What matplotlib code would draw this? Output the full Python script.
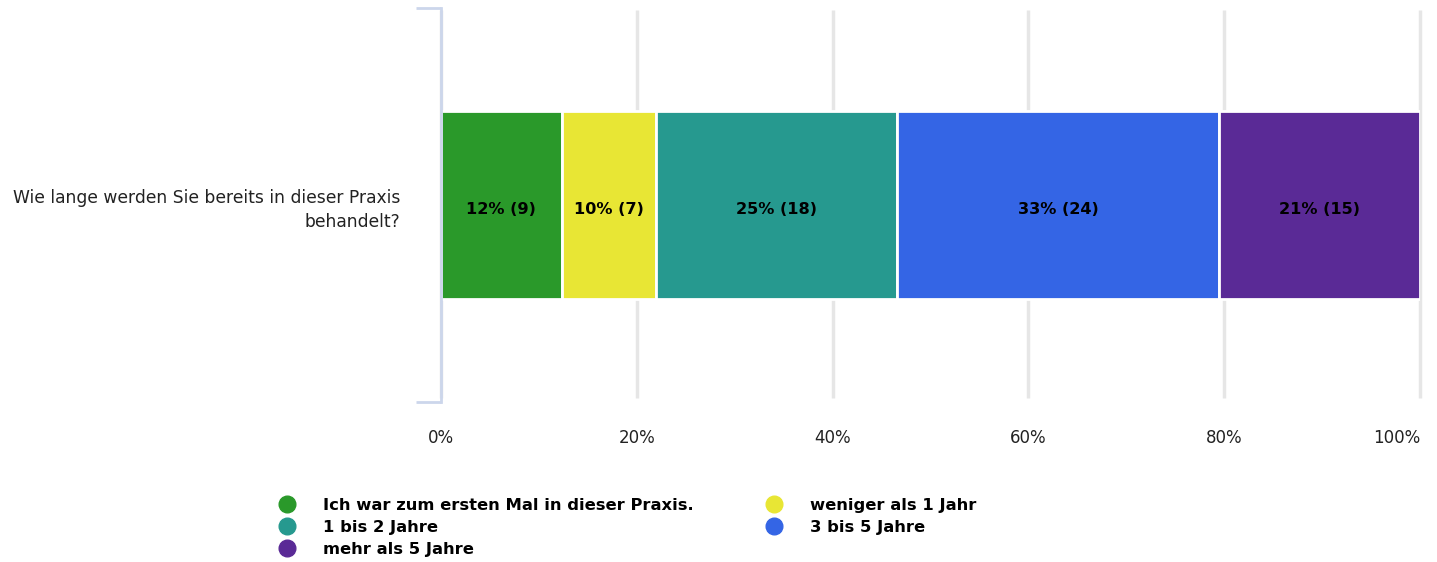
import numpy as np
import matplotlib
matplotlib.use("Agg")
import matplotlib.pyplot as plt
from matplotlib.lines import Line2D

plt.rcParams["font.family"] = ["DejaVu Sans"]

question = "Wie lange werden Sie bereits in dieser Praxis\nbehandelt?"
categories = ["Ich war zum ersten Mal in dieser Praxis.", "weniger als 1 Jahr",
              "1 bis 2 Jahre", "3 bis 5 Jahre", "mehr als 5 Jahre"]
counts = [9, 7, 18, 24, 15]
colors = ["#2a992a", "#e8e634", "#26998f", "#3465e5", "#5a2a96"]
xticks = [0, 20, 40, 60, 80, 100]

total = sum(counts)
pct = [100.0 * c / total for c in counts]

fig = plt.figure(figsize=(14.37, 5.62), dpi=100)
ax = fig.add_axes([441 / 1437, 1 - 402 / 562, 979 / 1437, 394 / 562])

left = 0
for p, c, col in zip(pct, counts, colors):
    ax.barh(0, p, left=left, height=0.477, color=col, edgecolor="white",
            linewidth=2, zorder=3)
    ax.text(left + p / 2, -0.012, f"{int(round(p))}% ({c})", ha="center", va="center",
            fontsize=11.6, fontweight="bold", color="black", zorder=4)
    left += p

ax.set_xlim(0, 100)
ax.set_ylim(-0.5, 0.5)
ax.set_xticks(xticks)
ax.set_xticklabels([f"{t}%" for t in xticks], fontsize=12, color="#222222")
ax.get_xticklabels()[-1].set_ha("right")
ax.tick_params(axis="x", length=0, pad=19.5)
for t in xticks:
    ax.plot([t, t], [-0.49, 0.495], color="#e6e6e6", linewidth=2.5, zorder=1,
            clip_on=False, solid_capstyle="butt")

# left bracket
for s in ["top", "right", "bottom"]:
    ax.spines[s].set_visible(False)
ax.spines["left"].set_color("#ccd6eb")
ax.spines["left"].set_linewidth(2)
ax.spines["left"].set_zorder(5)
ax.set_yticks([0])
ax.set_yticklabels([question], fontsize=12.3, color="#222222", ha="right",
                   multialignment="right", linespacing=1.45)
ax.tick_params(axis="y", which="major", length=0, pad=29)
ax.set_yticks([-0.5, 0.5], minor=True)
ax.tick_params(axis="y", which="minor", length=18, width=2, color="#ccd6eb")

order = [0, 2, 4, 1, 3]
handles = [Line2D([], [], marker="o", linestyle="", markersize=12,
                  markerfacecolor=colors[i], markeredgecolor=colors[i]) for i in order]
labels = [categories[i] for i in order]
fig.legend(handles, labels, loc="upper left", bbox_to_anchor=(256 / 1437, 1 - 483 / 562),
           ncol=2, frameon=False, prop={"weight": "bold", "size": 11.8},
           handletextpad=1.2, columnspacing=3.9, labelspacing=0.42)

fig.savefig("out.png", dpi=100)
